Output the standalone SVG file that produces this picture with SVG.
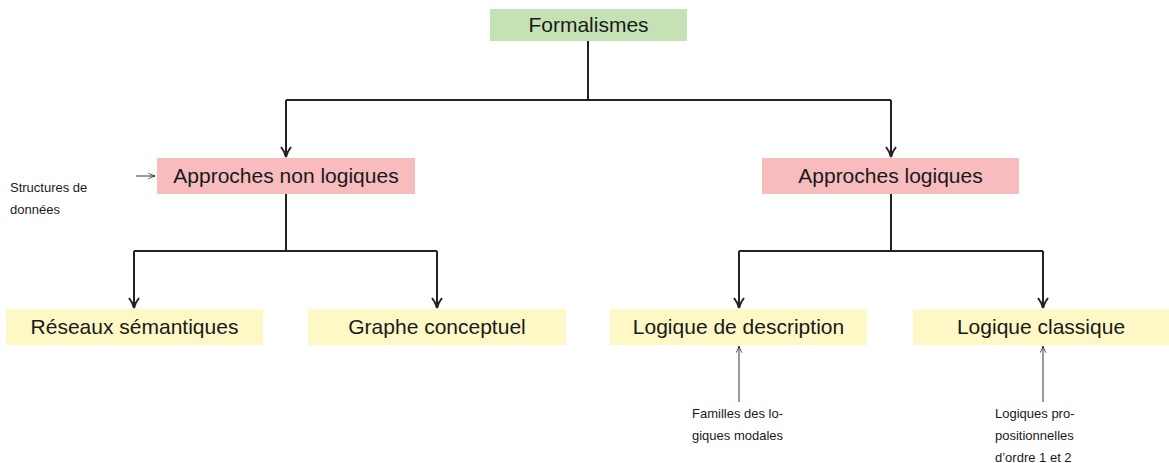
<svg xmlns="http://www.w3.org/2000/svg" width="1169" height="463" viewBox="0 0 1169 463">
<style>
.t{font-family:"Liberation Sans",Arial,sans-serif;fill:#1a1a1a}
.big{font-size:21px;text-anchor:middle}
.sm{font-size:13px}
.c{fill:none;stroke:#222;stroke-width:2}
.th{fill:none;stroke:#222;stroke-width:0.9}
</style>
<defs>
<marker id="ah2" viewBox="0 0 10 10" refX="9.5" refY="5" markerWidth="7" markerHeight="7" orient="auto" markerUnits="userSpaceOnUse">
<path d="M0,1 Q6,4 9.5,5 Q6,6 0,9" fill="none" stroke="#222" stroke-width="1.1"/>
</marker>
<marker id="a" viewBox="0 0 12 12" refX="11" refY="6" markerWidth="12" markerHeight="12" orient="auto" markerUnits="userSpaceOnUse">
<path d="M1,1 Q6,5 11,6 Q6,7 1,11" fill="none" stroke="#222" stroke-width="2"/>
</marker>
</defs>
<g id="connectors">
<path class="c" d="M588,41 V100 M286,100 H891"/>
<path class="c" d="M286,100 V157" marker-end="url(#a)"/>
<path class="c" d="M891,100 V157" marker-end="url(#a)"/>
<path class="c" d="M286,194 V251 M134,251 H437 M739,251 H1043 M891,194 V251"/>
<path class="c" d="M134,251 V308" marker-end="url(#a)"/>
<path class="c" d="M437,251 V308" marker-end="url(#a)"/>
<path class="c" d="M739,251 V308" marker-end="url(#a)"/>
<path class="c" d="M1043,251 V308" marker-end="url(#a)"/>
<path class="th" d="M739,402 V346" marker-end="url(#ah2)"/>
<path class="th" d="M1043,402 V346" marker-end="url(#ah2)"/>
<path class="th" d="M136,176 H155" marker-end="url(#ah2)"/>
</g>
<g id="n-formalismes">
<rect x="490" y="9" width="197" height="32" fill="#c5e2b5"/>
<text class="t big" x="588.5" y="32">Formalismes</text>
</g>
<g id="n-nonlog">
<rect x="157" y="158" width="258" height="36" fill="#f8bcbf"/>
<text class="t big" x="286" y="183">Approches non logiques</text>
</g>
<g id="n-log">
<rect x="762" y="158" width="257" height="36" fill="#f8bcbf"/>
<text class="t big" x="890.5" y="183">Approches logiques</text>
</g>
<g id="n-reseaux">
<rect x="6" y="309" width="257" height="36" fill="#fdf8c5"/>
<text class="t big" x="134.5" y="334">Réseaux sémantiques</text>
</g>
<g id="n-graphe">
<rect x="308" y="309" width="258" height="36" fill="#fdf8c5"/>
<text class="t big" x="437" y="334">Graphe conceptuel</text>
</g>
<g id="n-desc">
<rect x="610" y="309" width="257" height="36" fill="#fdf8c5"/>
<text class="t big" x="738.5" y="334">Logique de description</text>
</g>
<g id="n-classique">
<rect x="913" y="309" width="256" height="36" fill="#fdf8c5"/>
<text class="t big" x="1041" y="334">Logique classique</text>
</g>
<g id="n-structures">
<text class="t sm" x="10" y="192">Structures de</text>
<text class="t sm" x="10" y="214">données</text>
</g>
<g id="n-familles">
<text class="t sm" x="692" y="418">Familles des lo-</text>
<text class="t sm" x="692" y="440">giques modales</text>
</g>
<g id="n-logiques">
<text class="t sm" x="995" y="418">Logiques pro-</text>
<text class="t sm" x="995" y="440">positionnelles</text>
<text class="t sm" x="995" y="462">d’ordre 1 et 2</text>
</g>
</svg>
